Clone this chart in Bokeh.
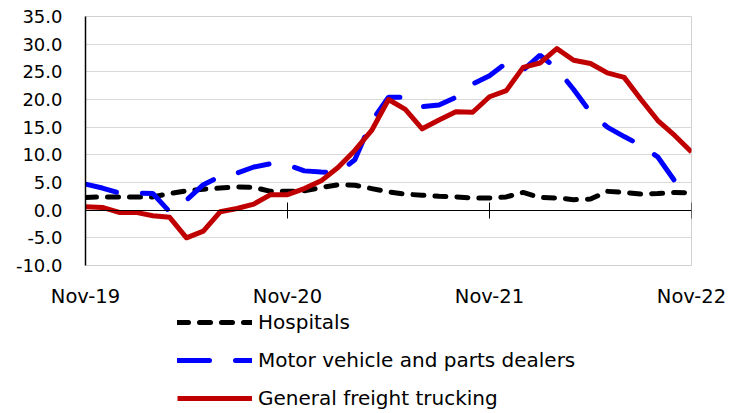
from bokeh.plotting import figure
from bokeh.layouts import column
from bokeh.models import (ColumnDataSource, Range1d, FixedTicker, LinearAxis,
                          NumeralTickFormatter, Legend, LegendItem)
from bokeh.embed import file_html
from bokeh.resources import INLINE

# ---- data (monthly, Nov-19 .. Nov-22) ----
months = list(range(37))
tick_positions = [0, 12, 24, 36]
tick_labels = ["Nov-19", "Nov-20", "Nov-21", "Nov-22"]

hospitals = [2.3, 2.4, 2.4, 2.4, 2.4, 3.0, 3.5, 3.8, 4.0, 4.2, 4.1, 3.4,
             3.4, 3.5, 4.1, 4.6, 4.5, 3.9, 3.3, 2.9, 2.7, 2.5, 2.4, 2.2,
             2.2, 2.4, 3.2, 2.3, 2.2, 1.9, 2.0, 3.4, 3.2, 2.9, 3.0, 3.2, 3.1]

motor_vehicle = [4.7, 4.0, 3.1, 3.1, 3.0, -0.3, 1.8, 4.6, 6.1, 6.7, 7.8, 8.4,
                 8.2, 7.1, 6.9, 6.8, 9.1, 16.1, 20.4, 20.4, 18.7, 19.0, 20.4, 22.8,
                 24.3, 26.6, 25.3, 28.0, 25.6, 21.8, 17.7, 15.0, 13.3, 11.7, 9.6, 5.3, 2.8]

freight = [0.6, 0.5, -0.4, -0.4, -1.0, -1.3, -5.0, -3.8, -0.3, 0.3, 1.1, 2.8,
           2.8, 3.9, 5.3, 7.7, 10.8, 14.4, 20.0, 18.2, 14.7, 16.3, 17.8, 17.7,
           20.5, 21.6, 25.8, 26.6, 29.2, 27.1, 26.5, 24.8, 24.0, 20.0, 16.2, 13.5, 10.5]

series_names = ["Hospitals", "Motor vehicle and parts dealers", "General freight trucking"]

src = ColumnDataSource(dict(x=months, h=hospitals, m=motor_vehicle, f=freight))

FONT = "DejaVu Sans"

STYLES = [
    dict(y="h", line_color="black", line_width=5, line_dash="11 11", line_cap="round"),
    dict(y="m", line_color="#0000ff", line_width=5, line_dash="32 26", line_cap="round"),
    dict(y="f", line_color="#c00000", line_width=5, line_join="round"),
]

# ---------------- main chart ----------------
p = figure(width=739, height=310, output_backend="svg", toolbar_location=None,
           x_range=Range1d(0, 36), y_range=Range1d(-10, 35),
           min_border_left=85, min_border_right=48, min_border_top=16,
           min_border_bottom=44, x_axis_type=None)
p.background_fill_color = None
p.border_fill_color = "white"
p.outline_line_color = "#d0d0d0"
p.outline_line_width = 1

p.xgrid.visible = False
p.ygrid.grid_line_color = "#d9d9d9"
p.ygrid.grid_line_width = 1
p.ygrid.ticker = FixedTicker(ticks=list(range(-10, 40, 5)))

p.yaxis.ticker = FixedTicker(ticks=list(range(-10, 40, 5)))
p.yaxis.formatter = NumeralTickFormatter(format="0.0")
p.yaxis.major_tick_line_color = None
p.yaxis.major_tick_out = 0
p.yaxis.major_tick_in = 0
p.yaxis.minor_tick_line_color = None
p.yaxis.axis_line_color = "black"
p.yaxis.axis_line_width = 1.5
p.yaxis.major_label_standoff = 23
p.yaxis.major_label_text_font = FONT
p.yaxis.major_label_text_font_size = "18px"
p.yaxis.major_label_text_color = "black"

xlab = LinearAxis(ticker=FixedTicker(ticks=tick_positions),
                  major_label_overrides={t: l for t, l in zip(tick_positions, tick_labels)})
xlab.axis_line_color = None
xlab.major_tick_line_color = None
xlab.major_tick_in = 0
xlab.major_tick_out = 0
xlab.minor_tick_line_color = None
xlab.major_label_standoff = 19
xlab.major_label_text_font = FONT
xlab.major_label_text_font_size = "19.5px"
xlab.major_label_text_color = "black"
p.add_layout(xlab, "below")

xzero = LinearAxis(ticker=FixedTicker(ticks=tick_positions), fixed_location=0)
xzero.axis_line_color = "black"
xzero.axis_line_width = 1.2
xzero.major_tick_line_color = "black"
xzero.major_tick_in = 8
xzero.major_tick_out = 8
xzero.minor_tick_line_color = None
xzero.major_label_text_font_size = "0px"
xzero.major_label_text_alpha = 0
p.add_layout(xzero, "below")

for st in STYLES:
    kw = dict(st)
    ycol = kw.pop("y")
    p.line("x", ycol, source=src, **kw)

# ---------------- legend strip below ----------------
lg = figure(width=739, height=103, output_backend="svg", toolbar_location=None,
            x_range=Range1d(0, 1), y_range=Range1d(1000, 1001),
            min_border=0, min_border_left=0, min_border_right=0,
            min_border_top=0, min_border_bottom=0,
            x_axis_type=None, y_axis_type=None)
lg.outline_line_color = None
lg.grid.visible = False
lg.background_fill_color = None
lg.border_fill_color = "white"

items = []
for name, st in zip(series_names, STYLES):
    kw = dict(st)
    ycol = kw.pop("y")
    r = lg.line("x", ycol, source=src, **kw)
    items.append(LegendItem(label=name, renderers=[r]))

legend = Legend(items=items, location=(92, 3), orientation="vertical",
                glyph_width=75, glyph_height=24, label_height=24,
                spacing=14, padding=0, margin=0, label_standoff=6,
                border_line_color=None, background_fill_alpha=0,
                label_text_font=FONT, label_text_font_size="20px",
                label_text_color="black")
lg.add_layout(legend, "center")

layout = column(p, lg, spacing=0)
open("out.html", "w").write(file_html(layout, INLINE))
